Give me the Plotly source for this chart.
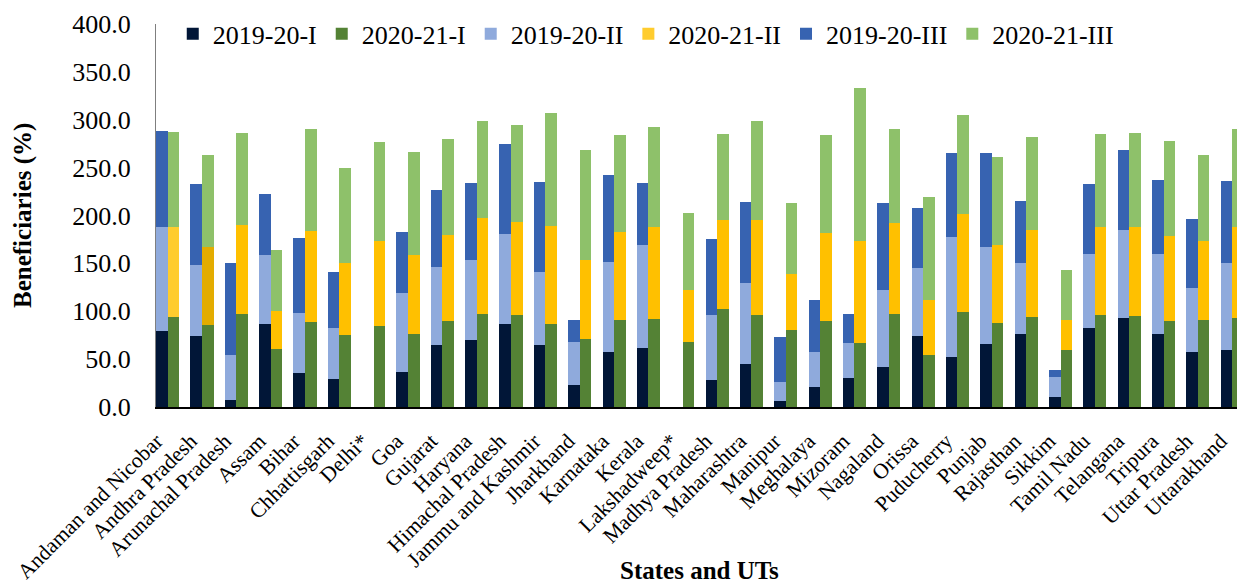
import plotly.graph_objects as go

states = ["Andaman and Nicobar", "Andhra Pradesh", "Arunachal Pradesh", "Assam", "Bihar",
          "Chhattisgarh", "Delhi*", "Goa", "Gujarat", "Haryana", "Himachal Pradesh",
          "Jammu and Kashmir", "Jharkhand", "Karnataka", "Kerala", "Lakshadweep*",
          "Madhya Pradesh", "Maharashtra", "Manipur", "Meghalaya", "Mizoram", "Nagaland",
          "Orissa", "Puducherry", "Punjab", "Rajasthan", "Sikkim", "Tamil Nadu", "Telangana",
          "Tripura", "Uttar Pradesh", "Uttarakhand"]

# segment values (each stacked on the previous one)
y2019_I = [79.5, 74.3, 7.8, 86.8, 35.7, 29.7, 0, 36.3, 64.5, 70.5, 86.8, 64.5, 23.5, 57.6, 61.8, 0,
           28.7, 44.4, 6.1, 21.1, 30.5, 42.0, 74.3, 52.4, 66.3, 76.7, 10.2, 83.0, 93.4, 76.7, 57.6, 59.3]
y2020_I = [94.2, 85.4, 96.9, 61.1, 88.9, 75.7, 84.3, 76.7, 90.0, 97.6, 96.2, 87.2, 71.2, 90.6, 92.4, 68.1,
           102.8, 96.2, 80.2, 90.0, 67.3, 96.9, 53.8, 99.7, 88.2, 94.2, 60.0, 95.8, 95.2, 90.0, 90.6, 93.4]
y2019_II = [108.2, 74.1, 47.0, 72.1, 62.9, 53.3, 0, 82.5, 82.2, 83.2, 94.0, 76.9, 44.6, 94.3, 107.5, 0,
            67.5, 84.8, 19.8, 36.5, 36.1, 80.3, 70.6, 124.8, 101.2, 73.4, 20.9, 76.9, 91.9, 83.2, 66.4, 90.8]
y2020_II = [94.2, 82.1, 93.6, 39.3, 95.3, 74.4, 88.8, 82.2, 90.1, 99.9, 96.7, 102.3, 82.8, 91.9, 96.0, 54.2,
            92.9, 99.5, 58.8, 91.4, 106.5, 95.4, 58.1, 102.3, 81.1, 91.1, 30.6, 92.6, 93.2, 89.0, 82.5, 94.3]
y2019_III = [100.6, 84.9, 95.3, 63.6, 78.0, 58.4, 0, 63.7, 79.6, 80.3, 94.3, 93.3, 23.2, 90.8, 64.7, 0,
             79.4, 85.0, 47.4, 54.1, 31.0, 90.9, 62.6, 88.1, 97.8, 65.5, 8.0, 73.4, 83.5, 76.8, 72.4, 85.6]
y2020_III = [98.9, 95.3, 96.0, 63.7, 106.5, 99.6, 103.7, 107.5, 99.4, 101.2, 101.3, 117.6, 114.1, 101.9, 104.1, 80.4,
             89.8, 103.0, 74.2, 103.0, 159.7, 97.7, 107.1, 102.6, 91.9, 96.7, 52.6, 97.1, 98.1, 98.5, 90.5, 103.0]

tick_vals = [0, 50, 100, 150, 200, 250, 300, 350, 400]

FONT = "Times New Roman, Liberation Serif, serif"
n = len(states)
off = 0.169
bw = 0.338
x19 = [i - off for i in range(n)]
x20 = [i + off for i in range(n)]
label_pos = [i - 0.33 for i in range(n)]

c_2020_II = ["#FFC000"] * n
c_2020_II[0] = "#FFCC2E"
c_2020_II[1] = "#E3AC00"

series = [
    ("2019-20-I", x19, y2019_I, "#011637"),
    ("2020-21-I", x20, y2020_I, "#548235"),
    ("2019-20-II", x19, y2019_II, "#8FAADC"),
    ("2020-21-II", x20, y2020_II, c_2020_II),
    ("2019-20-III", x19, y2019_III, "#3763B1"),
    ("2020-21-III", x20, y2020_III, "#8EC16A"),
]

fig = go.Figure()
for name, xs, ys, col in series:
    fig.add_trace(go.Bar(name=name, x=xs, y=ys, width=bw,
                         marker=dict(color=col, line=dict(width=0))))

fig.update_layout(
    width=1237, height=583,
    barmode="stack",
    plot_bgcolor="white", paper_bgcolor="white",
    margin=dict(l=156, r=0, t=24, b=176),
    font=dict(family=FONT, color="black"),
    showlegend=True,
    legend=dict(orientation="h", x=0.0155, xanchor="left", y=0.974, yanchor="middle",
                font=dict(size=26, family=FONT), bgcolor="rgba(0,0,0,0)", traceorder="normal"),
    xaxis=dict(range=[-0.341, 31.14], tickmode="array", tickvals=label_pos, ticktext=states,
               tickangle=-45, tickfont=dict(size=21.5, family=FONT), showgrid=False, zeroline=False,
               showline=True, linecolor="black", linewidth=2, ticks="", ticklabelstandoff=11),
    yaxis=dict(range=[0, 400], tickmode="array", tickvals=tick_vals, tickformat=".1f",
               tickfont=dict(size=26, family=FONT), showgrid=False, zeroline=False,
               showline=True, linecolor="#7f7f7f", linewidth=1, ticks="", ticklabelstandoff=19),
    annotations=[
        dict(text="<b>Beneficiaries (%)</b>", xref="paper", yref="paper", x=-0.1235, y=0.5,
             xanchor="center", yanchor="middle", textangle=-90, showarrow=False,
             font=dict(size=25, family=FONT)),
        dict(text="<b>States and UTs</b>", xref="paper", yref="paper", x=0.503, y=-0.427,
             xanchor="center", yanchor="middle", showarrow=False,
             font=dict(size=25, family=FONT)),
    ],
)

# remove the default page margin so the figure fills the window exactly,
# and keep anything drawn past the figure edge from growing the page
fig.write_html(
    "out.html", config={"displayModeBar": False},
    post_script=("document.documentElement.style.overflow='hidden';"
                 "document.body.style.margin='0';document.body.style.overflow='hidden';"
                 "document.querySelectorAll('.plotly-graph-div').forEach(function(d){d.style.overflow='hidden';});"))
